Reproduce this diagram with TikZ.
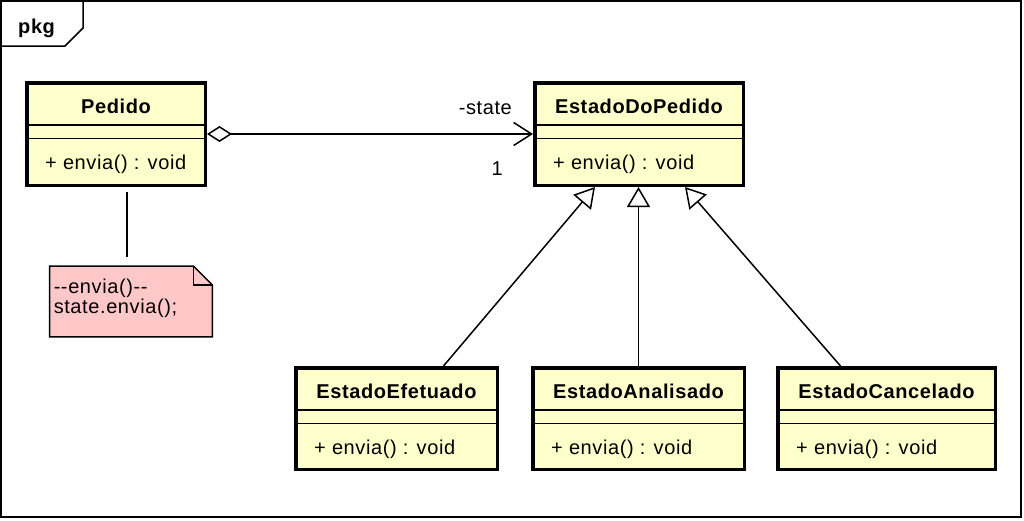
\documentclass[tikz,border=0pt]{standalone}
\usepackage{fontspec}
\setmainfont{Liberation Sans}[LetterSpace=3]
\usepackage{tikz}
\usetikzlibrary{arrows.meta,positioning,calc}
\definecolor{clsyellow}{HTML}{FFFFCC}
\definecolor{notepink}{HTML}{FFC8C8}

\begin{document}
\begin{tikzpicture}[x=1pt, y=-1pt,
  every node/.style={font=\fontsize{20}{17}\selectfont, inner sep=0pt},
  cls/.style={rectangle, draw, line width=3.5pt, fill=clsyellow, minimum height=102.5pt},
  sub/.style={cls, minimum height=101.5pt},
  ttl/.style={anchor=base, font=\fontsize{20}{17}\selectfont\bfseries},
  op/.style={anchor=base west},
  sep/.style={line width=1.5pt},
  lnk/.style={line width=1.5pt},
  agg/.style={lnk, {Diamond[open, length=25pt, width=16pt]}-{Straight Barb[length=18pt, width=23pt]}},
  gen/.style={lnk, -{Triangle[open, length=20pt, width=23pt]}},
  notebox/.style={draw, line width=1.5pt, fill=notepink}
]

\useasboundingbox (0,0) rectangle (1024,520);

% Package frame
\draw[line width=1.5pt] (1,1) rectangle (1021,517);
\draw[line width=1.5pt] (1,46) -- (65,46) -- (83,28) -- (83,1);
\node[ttl, anchor=base west] (pkg) at (18,33) {pkg};

% Context class
\node[cls, minimum width=178.5pt] (pedido) at (116,134) {};
\node[ttl] (pedidoT) at ([yshift=-32pt]pedido.north) {Pedido};
\draw[sep] ([yshift=-44pt]pedido.north west) -- ([yshift=-44pt]pedido.north east);
\draw[sep] ([yshift=-57.5pt]pedido.north west) -- ([yshift=-57.5pt]pedido.north east);
\node[op] (pedidoOp) at ([xshift=20pt, yshift=-88pt]pedido.north west) {+ envia() : void};

% State class
\node[cls, minimum width=208.5pt] (estado) at (639,134) {};
\node[ttl] (estadoT) at ([yshift=-32pt]estado.north) {EstadoDoPedido};
\draw[sep] ([yshift=-44pt]estado.north west) -- ([yshift=-44pt]estado.north east);
\draw[sep] ([yshift=-57.5pt]estado.north west) -- ([yshift=-57.5pt]estado.north east);
\node[op] (estadoOp) at ([xshift=20pt, yshift=-88pt]estado.north west) {+ envia() : void};

% Association
\draw[agg] (pedido) -- (estado);
\node[anchor=base east] (role) at ([xshift=-21pt, yshift=20pt]estado.west) {-state};
\node[anchor=base east] (mult) at ([xshift=-30pt, yshift=-41pt]estado.west) {1};

% Concrete states
\node[sub, minimum width=201.5pt] (efetuado) at (396.5,418.5) {};
\node[ttl] (efetuadoT) at ([yshift=-32pt]efetuado.north) {EstadoEfetuado};
\draw[sep] ([yshift=-44pt]efetuado.north west) -- ([yshift=-44pt]efetuado.north east);
\draw[sep] ([yshift=-57.5pt]efetuado.north west) -- ([yshift=-57.5pt]efetuado.north east);
\node[op] (efetuadoOp) at ([xshift=20pt, yshift=-88pt]efetuado.north west) {+ envia() : void};

\node[sub, minimum width=211.5pt] (analisado) at (638.5,418.5) {};
\node[ttl] (analisadoT) at ([yshift=-32pt]analisado.north) {EstadoAnalisado};
\draw[sep] ([yshift=-44pt]analisado.north west) -- ([yshift=-44pt]analisado.north east);
\draw[sep] ([yshift=-57.5pt]analisado.north west) -- ([yshift=-57.5pt]analisado.north east);
\node[op] (analisadoOp) at ([xshift=20pt, yshift=-88pt]analisado.north west) {+ envia() : void};

\node[sub, minimum width=217.5pt] (cancelado) at (886.5,418.5) {};
\node[ttl] (canceladoT) at ([yshift=-32pt]cancelado.north) {EstadoCancelado};
\draw[sep] ([yshift=-44pt]cancelado.north west) -- ([yshift=-44pt]cancelado.north east);
\draw[sep] ([yshift=-57.5pt]cancelado.north west) -- ([yshift=-57.5pt]cancelado.north east);
\node[op] (canceladoOp) at ([xshift=20pt, yshift=-88pt]cancelado.north west) {+ envia() : void};

% Generalizations
\draw[gen] ([xshift=47pt]efetuado.north) -- ([xshift=-44pt]estado.south);
\draw[gen] (analisado.north) -- (analisado.north |- estado.south);
\draw[gen] ([xshift=-46pt]cancelado.north) -- ([xshift=46pt]estado.south);

% Note
\node[minimum width=162.5pt, minimum height=70.5pt] (note) at (131,301.5) {};
\draw[notebox] (note.north west) -- ([xshift=-19pt]note.north east) -- ([yshift=-19pt]note.north east) -- (note.south east) -- (note.south west) -- cycle;
\draw[line width=1.5pt] ([xshift=-19pt]note.north east) |- ([yshift=-19pt]note.north east);
\node[anchor=base west] (noteA) at ([xshift=4pt, yshift=-27pt]note.north west) {-{}-envia()-{}-};
\node[anchor=base west] (noteB) at ([xshift=4pt, yshift=-47pt]note.north west) {state.envia();};
\draw[lnk, shorten <=5pt, shorten >=9pt] ([xshift=11pt]pedido.south) -- ([xshift=-4pt]note.north);

\end{tikzpicture}
\end{document}
